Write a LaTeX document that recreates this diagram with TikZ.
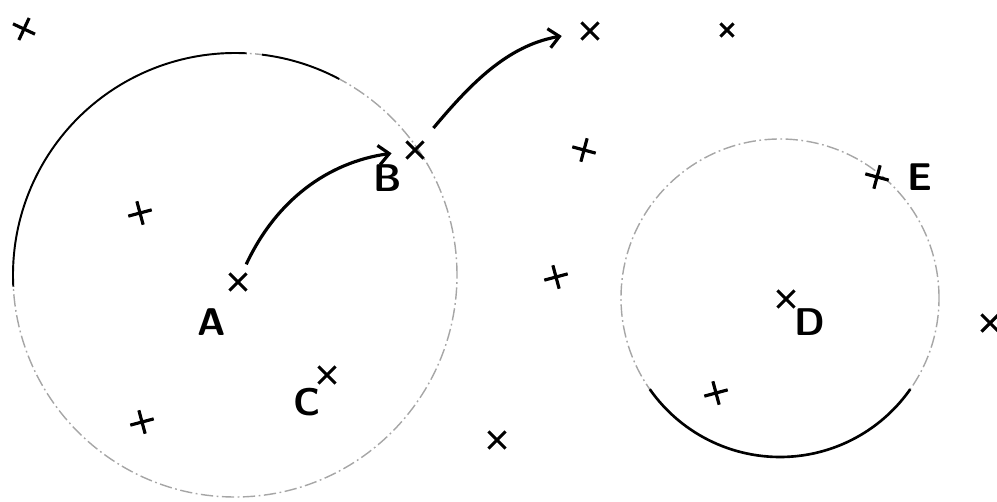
\documentclass[tikz,border=0pt]{standalone}
\usepackage{tikz}
\usetikzlibrary{positioning, arrows.meta, shapes.misc}

\tikzset{
  pt/.style={cross out, draw, line width=1.8pt, minimum size=0.28cm, inner sep=0pt},
  lbl/.style={font=\sffamily\bfseries\fontsize{22}{22}\selectfont, inner sep=0pt},
  faint/.style={gray!70, line width=0.8pt, dash pattern=on 7pt off 2pt on 1pt off 2pt},
  rim/.style={line width=1.1pt}
}

\begin{document}
\begin{tikzpicture}[x=0.02cm, y=0.02cm, on grid, auto,
    >={Straight Barb[length=6pt,width=11pt]}]
   \useasboundingbox (0,0) rectangle (997,501);

   % the two regions
   \draw[faint] (235,226) circle[radius=222];
   \draw[rim] (235,226) ++(183:222) arc[start angle=183, end angle=87, radius=222];
   \draw[rim] (235,226) ++(83:222) arc[start angle=83, end angle=62, radius=222];
   \draw[faint] (780,203) circle[radius=159];
   \draw[rim, line width=1.5pt] (780,203) ++(215:159) arc[start angle=215, end angle=325, radius=159];

   % points
   \node[pt, rotate=20] (p_1) at (24,472) {};
   \node[pt, rotate=60] (p_2) at (140,288) {};
   \node[pt] (a) at (238,219) {};
   \node[pt] (b) at (415,351) {};
   \node[pt, rotate=60] (p_3) at (142,79) {};
   \node[pt] (c) at (327,126) {};
   \node[pt] (p_4) at (590,470) {};
   \node[pt, minimum size=0.2cm] (p_5) at (727,471) {};
   \node[pt, rotate=30] (p_6) at (584,351) {};
   \node[pt, rotate=60] (p_7) at (556,224) {};
   \node[pt] (p_8) at (497,61) {};
   \node[pt] (d) at (786,202) {};
   \node[pt, rotate=60] (p_9) at (716,108) {};
   \node[pt, rotate=30] (e) at (877,324) {};
   \node[pt] (p_10) at (990,178) {};

   % labels
   \node[lbl, below left=0.8cm and 0.52cm of a] {A};
   \node[lbl, below left=0.56cm and 0.54cm of b] {B};
   \node[lbl, below left=0.54cm and 0.4cm of c] {C};
   \node[lbl, below right=0.46cm and 0.48cm of d] {D};
   \node[lbl, right=0.86cm of e] {E};

   \path[->, line width=1.8pt]
    (a) edge [out=65, in=188, shorten <=0.2cm, shorten >=0.3cm] (b)
    (b) edge [out=50, in=190, shorten <=0.35cm, shorten >=0.4cm] (p_4);
\end{tikzpicture}
\end{document}
